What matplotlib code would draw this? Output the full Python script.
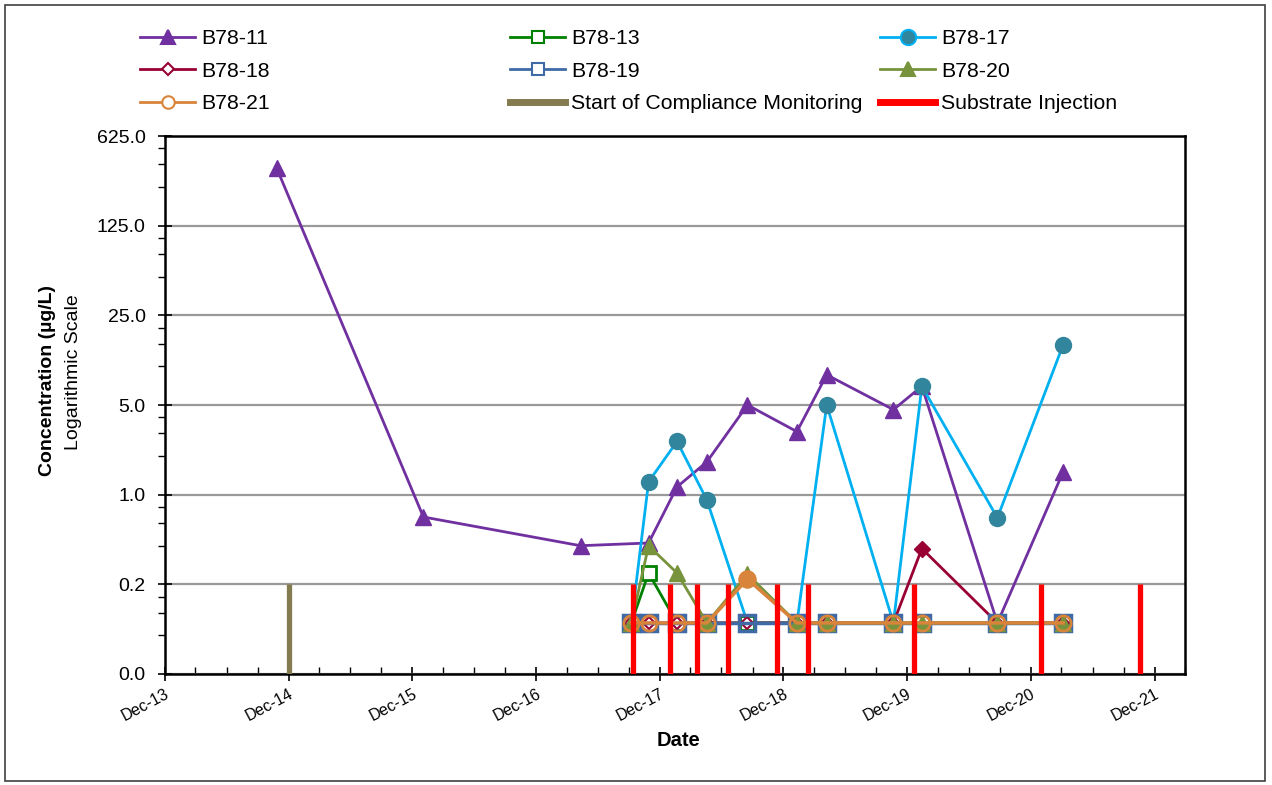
import matplotlib
matplotlib.use("Agg")
import matplotlib.pyplot as plt
import matplotlib.dates as mdates
from matplotlib.lines import Line2D
from matplotlib.ticker import FixedLocator, LogLocator, NullFormatter
import pandas as pd

plt.rcParams['font.family'] = ['Liberation Sans', 'DejaVu Sans']

# Sampling events at the B78 wells (ND results plotted at 0.1 ug/L)
sample_dates = ["2017-09-08", "2017-10-29", "2018-01-21", "2018-04-19",
                "2018-08-17", "2019-01-10", "2019-04-08", "2019-10-22",
                "2020-01-14", "2020-08-24", "2021-03-06"]

b78_11_dates = ["2014-10-27", "2016-01-03", "2017-04-11"] + sample_dates[1:]
b78_11 = [350, 0.67, 0.40, 0.42, 1.15, 1.8, 5.0, 3.1, 8.6, 4.6, 7.0, 0.1, 1.5]

b78_13 = [0.1, 0.245, 0.1, 0.1, 0.1, 0.1, 0.1, 0.1, 0.1, 0.1, 0.1]
b78_17 = [0.1, 1.26, 2.6, 0.91, 0.1, 0.1, 5.0, 0.1, 7.0, 0.66, 14.7]
b78_18 = [0.1, 0.1, 0.1, 0.1, 0.1, 0.1, 0.1, 0.1, 0.38, 0.1, 0.1]
b78_19 = [0.1, 0.1, 0.1, 0.1, 0.1, 0.1, 0.1, 0.1, 0.1, 0.1, 0.1]
b78_20 = [0.1, 0.40, 0.245, 0.1, 0.24, 0.1, 0.1, 0.1, 0.1, 0.1, 0.1]
b78_21 = [0.1, 0.1, 0.1, 0.1, 0.22, 0.1, 0.1, 0.1, 0.1, 0.1, 0.1]

compliance_start = "2014-12-03"
injection_dates = ["2017-09-12", "2017-12-30", "2018-03-21", "2018-06-20",
                   "2018-11-13", "2019-02-12", "2019-12-23", "2020-12-30",
                   "2021-10-18"]

ND = 0.1
y_ticks = [0.04, 0.2, 1.0, 5.0, 25.0, 125.0, 625.0]

W, H = 1272, 785
fig = plt.figure(figsize=(W / 100, H / 100), dpi=100)
ax = fig.add_axes([165 / W, 1 - 674 / H, (1185 - 165) / W, (674 - 136) / H])

# outer chart border
fig.patches.append(plt.Rectangle((5 / W, 4 / H), 1260 / W, 776 / H, transform=fig.transFigure,
                                 fill=False, edgecolor='#404040', linewidth=1.2))

sd = pd.to_datetime(sample_dates)

ax.plot(pd.to_datetime(b78_11_dates), b78_11, color='#7030A0', lw=2, marker='^',
        ms=11, mfc='#7030A0', mec='#7030A0', zorder=3)
ax.plot(sd, b78_17, color='#00B0F0', lw=2, marker='o', ms=11.5, mfc='#31859C',
        mec='#31859C', zorder=3)
ax.plot(sd, b78_13, color='#008000', lw=2, marker='s', ms=10.5, mfc='white',
        mec='#008000', mew=2, zorder=4)
ax.plot(sd, b78_18, color='#990033', lw=2, marker='D', ms=6, mfc='white',
        mec='#990033', mew=1.5, zorder=4.5)
ax.plot(sd, b78_19, color='#3F6AA6', lw=2.5, marker='s', ms=11, mfc='none',
        mec='#3F6AA6', mew=2.5, zorder=5)
ax.plot(sd, b78_20, color='#77933C', lw=2, marker='^', ms=11, mfc='#77933C',
        mec='#77933C', zorder=5.5)
ax.plot(sd, b78_21, color='#D9843B', lw=2.5, marker='o', ms=11, mfc='none',
        mec='#D9843B', mew=2, zorder=6)

# detected results get filled markers
for vals, color, marker, ms in [(b78_18, '#990033', 'D', 8), (b78_21, '#D9843B', 'o', 12)]:
    det = [(d, v) for d, v in zip(sd, vals) if v > ND]
    ax.plot([d for d, _ in det], [v for _, v in det], ls='none', marker=marker,
            ms=ms, color=color, zorder=8)

ax.vlines(pd.to_datetime([compliance_start]), 0.04, 0.2, color='#847B4E', lw=3.8, zorder=9)
ax.vlines(pd.to_datetime(injection_dates), 0.04, 0.2, color='#FF0000', lw=3.8, zorder=9)

# log-5 concentration axis
ax.set_yscale('log', base=5)
ax.set_ylim(0.04, 625)
ax.yaxis.set_major_locator(FixedLocator(y_ticks))
ax.set_yticklabels([f'{t:.1f}' for t in y_ticks], fontsize=14)
ax.yaxis.set_minor_locator(LogLocator(base=5, subs=[2, 3, 4]))
ax.yaxis.set_minor_formatter(NullFormatter())
ax.grid(axis='y', which='major', color='#999999', lw=1.6, zorder=0)
ax.tick_params(axis='y', which='major', direction='inout', length=10, width=1.2, pad=9)
ax.tick_params(axis='y', which='minor', direction='out', length=5, width=1.0)

ax.set_xlim(pd.Timestamp('2013-12-01'), pd.Timestamp('2022-03-01'))
ax.xaxis.set_major_locator(mdates.MonthLocator(bymonth=12, bymonthday=1))
ax.xaxis.set_minor_locator(mdates.MonthLocator(bymonth=[3, 6, 9], bymonthday=1))
ax.xaxis.set_major_formatter(mdates.DateFormatter('%b-%y'))
ax.tick_params(axis='x', which='major', direction='inout', length=10, width=1.2, pad=4,
               labelsize=11.5)
ax.tick_params(axis='x', which='minor', direction='in', length=5, width=1.0)
for lbl in ax.get_xticklabels():
    lbl.set_rotation(28)
    lbl.set_ha('right')
    lbl.set_rotation_mode('anchor')

for sp in ax.spines.values():
    sp.set_linewidth(1.8)
    sp.set_color('black')

fig.text(678 / W, 1 - 740 / H, 'Date', fontsize=14.5, fontweight='bold', ha='center', va='center')
fig.text(48 / W, 1 - 381 / H, 'Concentration (µg/L)', fontsize=14, fontweight='bold',
         rotation=90, ha='center', va='center')
fig.text(73 / W, 1 - 372 / H, 'Logarithmic Scale', fontsize=14, rotation=90,
         ha='center', va='center')

# legend: three columns laid out row by row
def h(color, marker=None, mfc=None, ms=10, lw=2):
    return Line2D([], [], color=color, lw=lw, marker=marker, ms=ms,
                  mfc=mfc if mfc else color, mec=color, mew=1.5)

columns = [
    (140, [h('#7030A0', '^', ms=10), h('#990033', 'D', 'white', ms=6), h('#D9843B', 'o', 'white', ms=9)],
     ['B78-11', 'B78-18', 'B78-21']),
    (510, [h('#008000', 's', 'white', ms=9), h('#3F6AA6', 's', 'white', ms=9), h('#847B4E', lw=5)],
     ['B78-13', 'B78-19', 'Start of Compliance Monitoring']),
    (880, [h('#00B0F0', 'o', '#31859C', ms=11), h('#77933C', '^', ms=10), h('#FF0000', lw=5)],
     ['B78-17', 'B78-20', 'Substrate Injection']),
]
for x0, handles, labels in columns:
    fig.legend(handles, labels, loc='upper left', bbox_to_anchor=(x0 / W, 1 - 29.5 / H),
               frameon=False, fontsize=15.3, handlelength=2.6, handletextpad=0.28,
               labelspacing=0.63, borderpad=0, borderaxespad=0)

fig.savefig('out.png', dpi=100)
